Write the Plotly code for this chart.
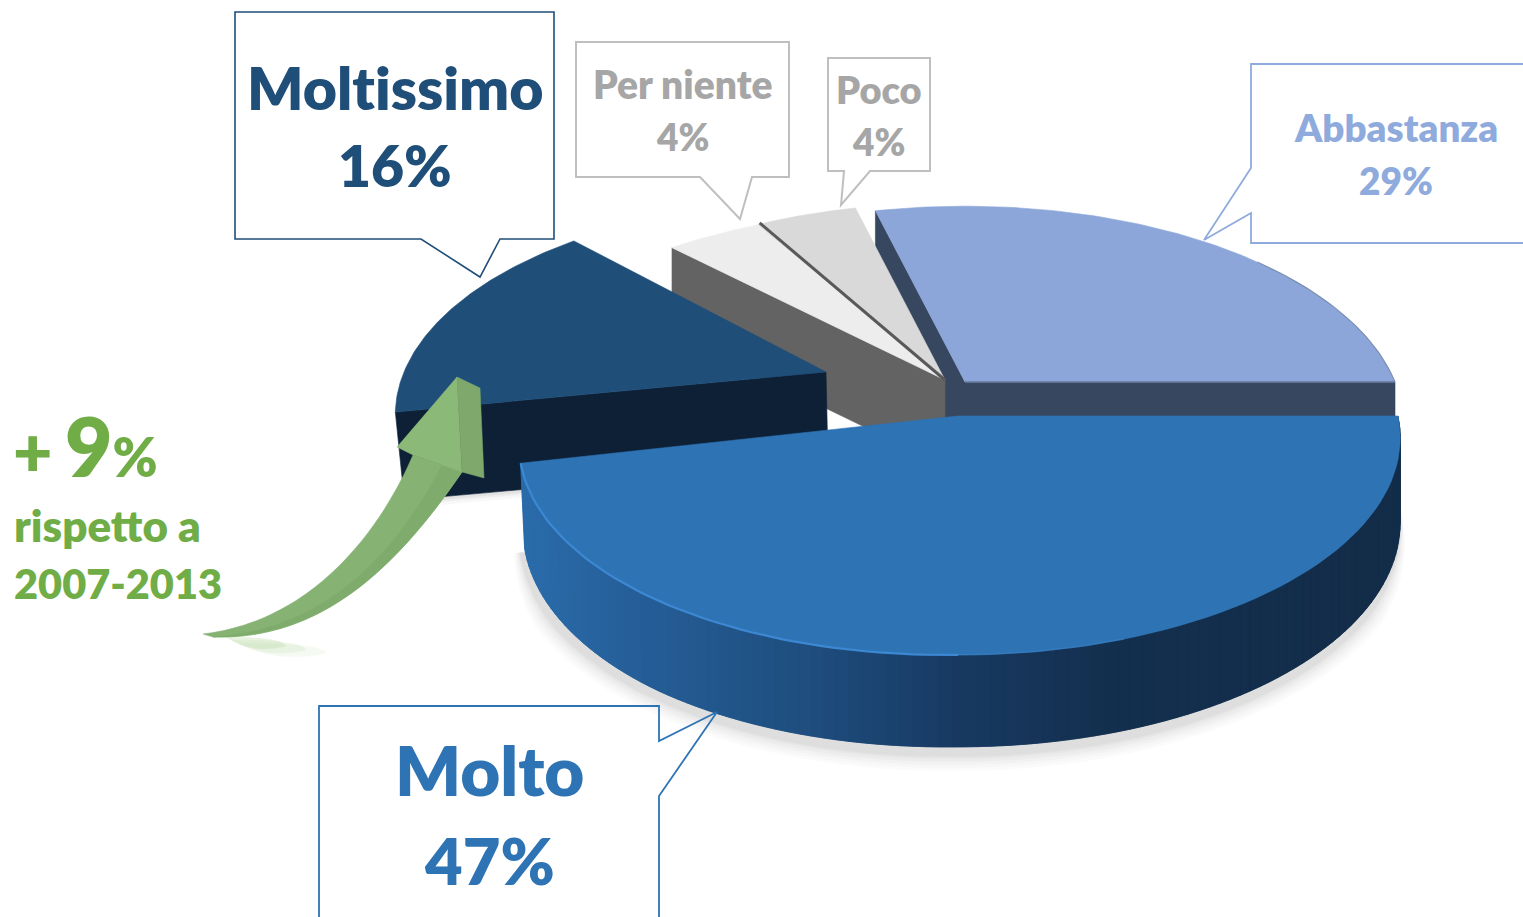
import numpy as np
import plotly.graph_objects as go

# ---- data ----
categories = ["Molto", "Moltissimo", "Per niente", "Poco", "Abbastanza"]
values = [47, 16, 4, 4, 29]
delta_label = "9"
delta_lines = ["rispetto a", "2007-2013"]

# ---- styles / geometry of the drawn perspective pie ----
top_colors = {"Molto": "#2E74B5", "Moltissimo": "#1F4E79", "Per niente": "#EDEDED",
              "Poco": "#D9D9D9", "Abbastanza": "#8CA6D9"}
wall_colors = {"Moltissimo": "#0D2036", "grey": "#636363", "Abbastanza": "#384760"}
geom = {  # cx, cy, rx, ry, perspective
    "Molto": (958, 416, 440, 215, 0.10),
    "Moltissimo": (826, 372, 422, 206, 0.20),
    "Per niente": (945, 380, 457, 208, 0.20),
    "Poco": (945, 380, 430, 212, 0.20),
    "Abbastanza": (965, 382, 430, 211, 0.20),
}
DEPTH = 86

cum = np.cumsum([0] + values) * 3.6
span = {c: (cum[i], cum[i + 1]) for i, c in enumerate(categories)}


def proj(cat, t):
    cx, cy, rx, ry, k = geom[cat]
    t = np.radians(np.asarray(t, dtype=float))
    w = 1 - k * np.sin(t)
    x = cx + rx * np.cos(t) / w
    y = cy + ry * np.sin(t) / w
    if cat == "Molto":  # the front slice leans a little to the left
        y = y + np.maximum(0, cx - x) * 0.014
        x = cx + (x - cx) * np.where(x < cx, 0.993, 1.0)
    return x, y


def arc(cat, n=90):
    return proj(cat, np.linspace(*span[cat], n))


fig = go.Figure()


def poly(x, y, color, opacity=1.0, lw=0.6):
    fig.add_trace(go.Scatter(x=list(x), y=list(y), mode="lines", fill="toself", fillcolor=color,
                             line=dict(color=color, width=lw), opacity=opacity,
                             hoverinfo="skip", showlegend=False))


def line(x, y, color, w, opacity=1.0):
    fig.add_trace(go.Scatter(x=list(x), y=list(y), mode="lines", opacity=opacity,
                             line=dict(color=color, width=w), hoverinfo="skip", showlegend=False))


def wedge(cat, extra=None):
    ax, ay = arc(cat)
    cx, cy = geom[cat][:2]
    ex, ey = ([extra[0]], [extra[1]]) if extra else ([], [])
    poly([cx, *ex, *ax, cx], [cy, *ey, *ay, cy], top_colors[cat])


def depth(t):
    return 84 + 8 * np.sin(np.radians(t))


# soft shadow under the front slice
st = np.linspace(span["Molto"][0], span["Molto"][1], 160)
mx, my = proj("Molto", st)
taper = np.clip(np.sin(np.radians(st)) * 2.2, 0, 1)
for e, op in zip([16, 13, 10, 7, 4, 2], [0.03, 0.035, 0.04, 0.05, 0.06, 0.07]):
    sx = 958 + (mx - 958) * (1 + e * taper / 440)
    sy = my + depth(st) + (my - 416) * (e * taper / 240) + 8 * taper
    poly(sx, sy, "#808080", op, 0)
# soft shadow under the Moltissimo wall
for e, op in zip([7, 4, 2], [0.06, 0.08, 0.1]):
    poly([405, 530, 530, 405], [497, 488, 490 + e, 501 + e], "#808080", op, 0)

# walls behind
ab_x, ab_y = arc("Abbastanza")
acx, acy = geom["Abbastanza"][:2]
gcx, gcy = geom["Per niente"][:2]
poly([ab_x[0], ab_x[0], gcx, ab_x[-1], ab_x[-1], acx, ab_x[0]],
     [ab_y[0], ab_y[0] + DEPTH, acy + DEPTH, acy + DEPTH, acy, acy, ab_y[0]],
     wall_colors["Abbastanza"])

pn_x, pn_y = proj("Per niente", span["Per niente"][0])
poly([pn_x, pn_x, gcx, gcx, pn_x], [pn_y, pn_y + DEPTH, gcy + DEPTH, gcy, pn_y], wall_colors["grey"])

# top faces of the rear slices
wedge("Abbastanza")
line(ab_x[55:], ab_y[55:], "#7486A8", 1.2, 0.8)
line([acx, ab_x[-1]], [acy, acy], "#66789A", 1.5)
sx_, sy_ = proj("Per niente", span["Poco"][0])
wedge("Poco", extra=(float(sx_), float(sy_)))
wedge("Per niente")
line([sx_ + 2, gcx], [sy_ - 2, gcy], "#595959", 3)

# Moltissimo
m1x, m1y = proj("Moltissimo", span["Moltissimo"][0])
mcx, mcy = geom["Moltissimo"][:2]
poly([m1x, m1x + 9, mcx + 2, mcx, m1x], [m1y, m1y + 88, mcy + 90, mcy, m1y], wall_colors["Moltissimo"])
wedge("Moltissimo")

# Molto wall: gradient strips following x
stops_x = [520, 640, 800, 950, 1100, 1400]
stops_c = [(0x2B, 0x6C, 0xAB), (0x25, 0x5E, 0x97), (0x1F, 0x4E, 0x7F), (0x18, 0x3A, 0x62),
           (0x14, 0x30, 0x4F), (0x13, 0x2D, 0x49)]
tt = np.linspace(span["Molto"][0], span["Molto"][1], 111)
rx_, ry_ = proj("Molto", tt)
dd = depth(tt)
lean = np.interp(rx_, [520, 660], [4, 0])
for i in range(len(tt) - 1):
    j = min(i + 2, len(tt) - 1)
    xm = (rx_[i] + rx_[j]) / 2
    col = [int(np.interp(xm, stops_x, [s[ch] for s in stops_c])) for ch in range(3)]
    c = "rgb(%d,%d,%d)" % tuple(col)
    xs = [rx_[i], rx_[j], rx_[j] + lean[j], rx_[i] + lean[i], rx_[i]]
    ys = [ry_[i], ry_[j], ry_[j] + dd[j], ry_[i] + dd[i], ry_[i]]
    poly(xs, ys, c)

wedge("Molto")
hx, hy = proj("Molto", np.linspace(70, 92, 20))
line(hx, hy, "#3C88D2", 1.5, 0.5)
hx, hy = proj("Molto", np.linspace(90, span["Molto"][1], 60))
line(hx, hy, "#3C88D2", 2.2)

# ---- shapes: callouts and the arrow ----
shapes = []


def callout(path, color, w=1.6):
    shapes.append(dict(type="path", path=path, xref="x", yref="y", line=dict(color=color, width=w),
                       fillcolor="rgba(255,255,255,0)", layer="above"))


callout("M235,12 L554,12 L554,239 L500,239 L480,277 L421,239 L235,239 Z", "#1F4E79")
callout("M576,42 L789,42 L789,177 L752,177 L740,219 L700,177 L576,177 Z", "#BFBFBF", 2)
callout("M828,58 L930,58 L930,171 L870,171 L841,205 L844,171 L828,171 Z", "#BFBFBF", 2)
callout("M1530,64 L1251,64 L1251,168 L1204,240 L1251,213 L1251,243 L1530,243", "#8FAADC", 1.8)
callout("M319,925 L319,706 L659,706 L659,741 L717,712 L659,796 L659,925", "#2E74B5", 1.8)


def gshape(path, color, op=1.0):
    shapes.append(dict(type="path", path=path, xref="x", yref="y", line=dict(color=color, width=0.5),
                       fillcolor=color, opacity=op, layer="above"))


for (a, b, c, d), op in zip([(238, 320, 643, 664), (232, 300, 640, 660), (226, 280, 637, 655)],
                            [0.10, 0.15, 0.25]):
    gshape(f"M{a},{c} Q{b},{c} {b + 6},{(c + d) // 2} Q{(a + b) // 2},{d} {a},{c} Z", "#A9D18E", op)
gshape("M413,455 C385,520 320,620 203,634 L213,637 C320,640 395,570 462,472 L442,465 Z", "#86B374")
gshape("M442,465 C395,555 325,630 213,637 C320,640 395,570 462,472 Z", "#7FAC6C")
gshape("M457,377 L397,447 L413,455 L442,465 L462,472 Z", "#8BBA78")
gshape("M457,377 L480,388 L484,478 L462,472 Z", "#7FA96C")

# ---- labels ----
FONT = "Lato"
annos = []


def text(x, y, s, size, color, anchor="center"):
    annos.append(dict(x=x, y=y, xref="x", yref="y", text=s, showarrow=False, xanchor=anchor, yanchor="middle",
                      font=dict(family=FONT, size=size, color=color, weight=800)))


pct = {c: f"{v}%" for c, v in zip(categories, values)}
text(395, 87, categories[1].replace("ti", "t\u200ci"), 59, "#1F4E79")
text(395, 165, pct["Moltissimo"], 57, "#1F4E79")
text(683, 84, categories[2], 39, "#A6A6A6")
text(682, 136, pct["Per niente"], 37, "#A6A6A6")
text(879, 89, categories[3], 38, "#A6A6A6")
text(878, 141, pct["Poco"], 37, "#A6A6A6")
text(1396, 127, categories[4], 38.5, "#8FAADC")
text(1396, 180, pct["Abbastanza"], 37, "#8FAADC")
text(489, 769, categories[0], 69, "#2E74B5")
text(489, 860, pct["Molto"], 65, "#2E74B5")
text(11, 445, f"<span style='font-size:68px'>+</span> <span style='font-size:82px'>{delta_label}</span>%", 54, "#70AD47", "left")
text(12, 525, delta_lines[0], 44, "#70AD47", "left")
text(12, 583, delta_lines[1], 41.5, "#70AD47", "left")

fig.update_layout(
    width=1523, height=917, margin=dict(l=0, r=0, t=0, b=0), paper_bgcolor="white", plot_bgcolor="white",
    xaxis=dict(range=[0, 1523], visible=False, fixedrange=True),
    yaxis=dict(range=[917, 0], visible=False, fixedrange=True),
    shapes=shapes, annotations=annos, showlegend=False,
)
fig.write_html("out.html", config={"displayModeBar": False},
               post_script="document.body.style.margin='0';document.body.style.overflow='hidden';")
